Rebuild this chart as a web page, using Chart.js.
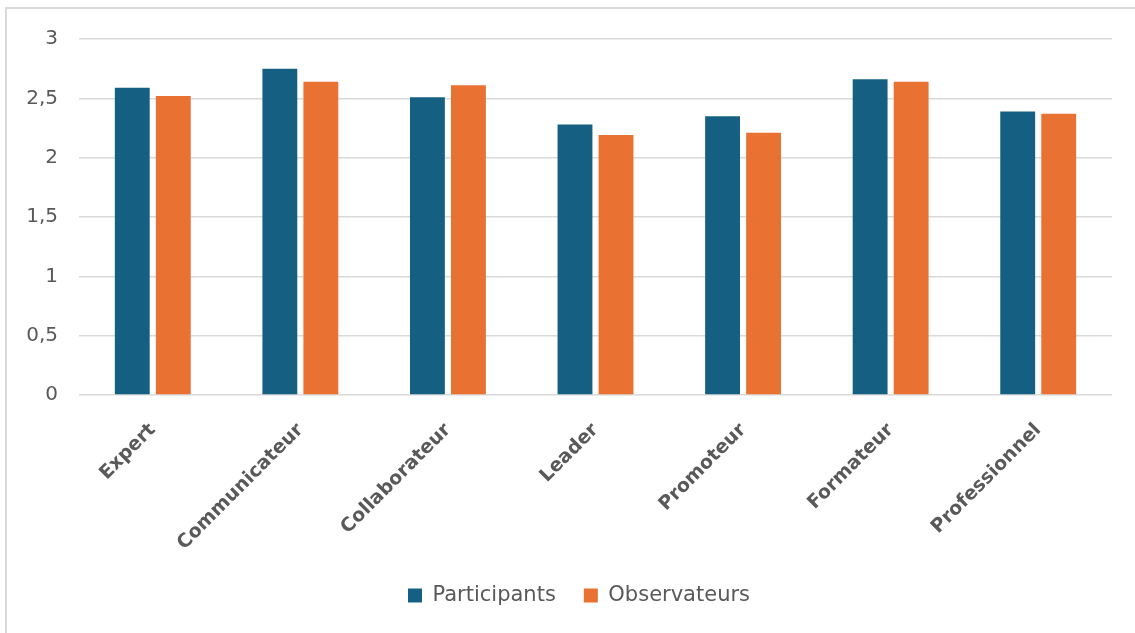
<!DOCTYPE html>
<html>
<head>
<meta charset="utf-8">
<script src="https://cdn.jsdelivr.net/npm/chart.js@4/dist/chart.umd.min.js"></script>
<style>
  html, body { margin: 0; padding: 0; background: #fff; overflow: hidden; }
  #wrap { position: absolute; left: 0; top: 0; width: 1135px; height: 633px; }
</style>
</head>
<body>
<div id="wrap"><canvas id="chart"></canvas></div>
<script>
// --- Data ---------------------------------------------------------------
var categories   = ['Expert', 'Communicateur', 'Collaborateur', 'Leader', 'Promoteur', 'Formateur', 'Professionnel'];
var participants = [2.59, 2.75, 2.51, 2.28, 2.35, 2.66, 2.39];
var observateurs = [2.52, 2.64, 2.61, 2.19, 2.21, 2.64, 2.37];
var yTicks       = [0, 0.5, 1, 1.5, 2, 2.5, 3];

var GREY = '#595959';

// comma decimals, like the original
function fmtTick(v){
  return String(v).replace('.', ',');
}

// the legend in the original sits a little right of the canvas centre
var legendNudge = {
  id: 'legendNudge',
  afterLayout: function(chart){
    if(!chart.legend) return;
    chart.legend.left += 23;
    chart.legend.right += 23;
  }
};

// light frame of the chart object (only top and left edges are in view)
var chartFrame = {
  id: 'chartFrame',
  beforeDraw: function(chart){
    var c = chart.ctx;
    c.save();
    c.strokeStyle = '#d9d9d9';
    c.lineWidth = 2;
    c.beginPath();
    c.moveTo(6, chart.height);
    c.lineTo(6, 8);
    c.lineTo(chart.width, 8);
    c.stroke();
    c.restore();
  }
};

var ctx = document.getElementById('chart').getContext('2d');
new Chart(ctx, {
  type: 'bar',
  data: {
    labels: categories,
    datasets: [{
      label: 'Participants',
      data: participants,
      backgroundColor: '#156082',
      categoryPercentage: 0.556,
      barPercentage: 0.85
    },{
      label: 'Observateurs',
      data: observateurs,
      backgroundColor: '#E97132',
      categoryPercentage: 0.556,
      barPercentage: 0.85
    }]
  },
  plugins: [legendNudge, chartFrame],
  options: {
    responsive: true,
    maintainAspectRatio: false,
    animation: false,
    layout: { padding: { top: 39, right: 23, bottom: 17, left: 0 } },
    scales: {
      x: {
        grid: { display: false },
        border: { display: false },
        ticks: {
          color: GREY,
          font: { family: 'DejaVu Sans', size: 19, weight: 'bold' },
          minRotation: 45,
          maxRotation: 45,
          padding: 16
        },
        afterFit: function(scale){ scale.height = 162; }
      },
      y: {
        min: 0,
        max: 3,
        afterBuildTicks: function(scale){
          scale.ticks = yTicks.map(function(v){ return { value: v }; });
        },
        grid: { color: '#d9d9d9', lineWidth: 1.5, drawTicks: false },
        border: { display: false },
        ticks: {
          color: GREY,
          font: { family: 'DejaVu Sans', size: 20 },
          padding: 21,
          callback: function(v){ return fmtTick(v); }
        },
        afterFit: function(scale){ scale.width = 79; }
      }
    },
    plugins: {
      legend: {
        display: true,
        position: 'bottom',
        labels: {
          color: GREY,
          boxWidth: 14,
          boxHeight: 14,
          padding: 28,
          font: { family: 'DejaVu Sans', size: 21 }
        }
      },
      tooltip: { enabled: false }
    }
  }
});
</script>
</body>
</html>
